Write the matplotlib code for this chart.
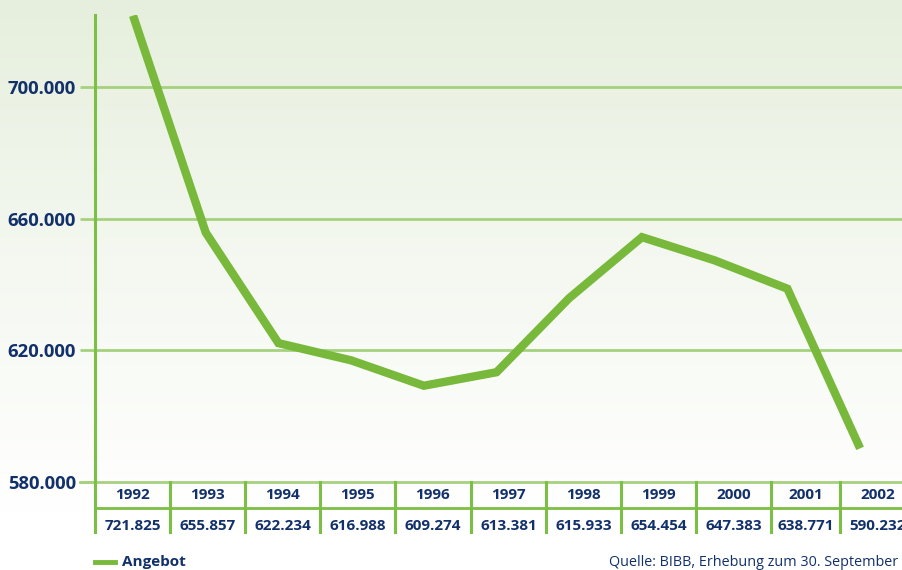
import matplotlib.pyplot as plt
import numpy as np
from matplotlib.colors import LinearSegmentedColormap

# ---- data -------------------------------------------------------------
years = [1992, 1993, 1994, 1995, 1996, 1997, 1998, 1999, 2000, 2001, 2002]
angebot = [721.825, 655.857, 622.234, 616.988, 609.274, 613.381,
           635.933, 654.454, 647.383, 638.771, 590.232]  # in thousands
table_labels = ["721.825", "655.857", "622.234", "616.988", "609.274",
                "613.381", "615.933", "654.454", "647.383", "638.771",
                "590.232"]
yticks = [580, 620, 660, 700]
ytick_labels = ["580.000", "620.000", "660.000", "700.000"]
series_name = "Angebot"
source = "Quelle: BIBB, Erhebung zum 30. September"

# ---- style ------------------------------------------------------------
NAVY = "#12306a"
LINE = "#78b83a"
GRID = "#a6d27f"
SPINE = "#7cbf45"
plt.rcParams["font.family"] = ["Open Sans", "DejaVu Sans"]

W, H = 903, 570
fig = plt.figure(figsize=(W / 100, H / 100), dpi=100)


def px_rect(x0, y0, x1, y1):
    """Figure-relative rect from pixel box (top-left origin)."""
    return [x0 / W, 1 - y1 / H, (x1 - x0) / W, (y1 - y0) / H]


# background gradient
bg = fig.add_axes([0, 0, 1, 1], zorder=0)
bg.set_axis_off()
cmap = LinearSegmentedColormap.from_list("bg", ["#e6efdd", "#f4f8f0", "#ffffff"])
grad = np.linspace(0, 1, 256).reshape(-1, 1)
bg.imshow(grad, aspect="auto", cmap=cmap, extent=[0, 1, 0.1, 1])
bg.set_xlim(0, 1)
bg.set_ylim(0, 1)

# main line chart
ax = fig.add_axes(px_rect(95, 15, 903, 482), zorder=2)
ax.patch.set_alpha(0)
ax.plot(years, angebot, color=LINE, lw=6, solid_joinstyle="miter",
        solid_capstyle="butt", zorder=3)
ax.set_xlim(1991.477, 2002.59)
ax.set_ylim(580, 722)
ax.set_yticks(yticks)
ax.set_yticklabels(ytick_labels, fontsize=13.3, fontweight="bold", color=NAVY)
ax.tick_params(axis="y", length=11, width=2, color=GRID, pad=2.5)
ax.set_xticks([])
for yv in yticks[1:]:
    ax.axhline(yv, color=GRID, lw=2, zorder=1)
for s in ("top", "right", "bottom"):
    ax.spines[s].set_visible(False)
ax.spines["left"].set_color(SPINE)
ax.spines["left"].set_linewidth(2.2)

# data table below the chart (pixel coordinates)
tab = fig.add_axes(px_rect(80, 482, 903, 532), zorder=2)
tab.patch.set_alpha(0)
tab.set_axis_off()
tab.set_xlim(80, 903)
tab.set_ylim(532, 482)
edges = [95, 170, 245, 320, 395, 471, 546, 621, 696, 771, 840, 915]
tab.plot([80, 903], [482, 482], color=GRID, lw=2, clip_on=False)
tab.plot([95, 903], [508, 508], color=SPINE, lw=2, clip_on=False)
for e in edges[:-1]:
    tab.plot([e, e], [482, 532], color=SPINE, lw=2.2, clip_on=False)
for i, (yr, lab) in enumerate(zip(years, table_labels)):
    cx = (edges[i] + edges[i + 1]) / 2
    tab.text(cx, 495, str(yr), ha="center", va="center", fontsize=11,
             fontweight="bold", color=NAVY, clip_on=True)
    tab.text(cx, 526, lab, ha="center", va="center", fontsize=11,
             fontweight="bold", color=NAVY, clip_on=True)

# legend and source
fig.add_artist(plt.Line2D([95 / W, 115 / W], [1 - 562 / H] * 2, color=LINE, lw=3.5))
fig.text(122 / W, 1 - 562 / H, series_name, ha="left", va="center",
         fontsize=11, fontweight="bold", color=NAVY)
fig.text(609 / W, 1 - 562 / H, source, ha="left", va="center",
         fontsize=10.4, color=NAVY)

fig.savefig("out.png", dpi=100)
